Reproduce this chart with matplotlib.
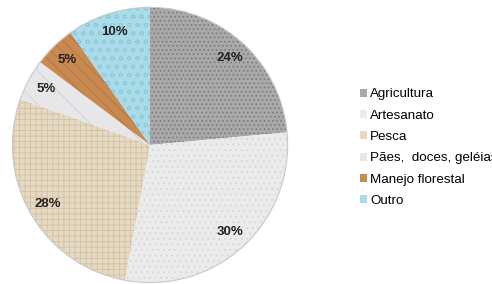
import matplotlib
matplotlib.use('Agg')
import matplotlib.pyplot as plt

matplotlib.rcParams['font.family'] = ['Liberation Sans', 'DejaVu Sans']
matplotlib.rcParams['hatch.linewidth'] = 0.6

labels = ['Agricultura', 'Artesanato', 'Pesca', 'Pães,  doces, geléias', 'Manejo florestal', 'Outro']
values = [24, 30, 28, 5, 5, 10]
colors = ['#a9a9a9', '#ebebeb', '#e6d9c3', '#e7e7ea', '#c98a52', '#aadbe8']
hatch_colors = ['#767676', '#d6d6d6', '#d2c2a4', '#d0d0d5', '#b07444', '#8cc9da']
hatches = ['....', '...', '+++', '\\', '\\\\\\', 'oo']

fig = plt.figure(figsize=(4.92, 2.84), dpi=100)
ax = fig.add_axes([0.0224, 0.0, 0.565, 0.979])

pct_iter = iter(values)
wedges, texts, autotexts = ax.pie(
    values, colors=colors, startangle=90, counterclock=False,
    autopct=lambda p: f'{next(pct_iter)}%', pctdistance=0.86,
    wedgeprops=dict(linewidth=0),
    textprops=dict(fontsize=9.5, fontweight='bold', color='#222222'))
for w, h, hc in zip(wedges, hatches, hatch_colors):
    w.set_hatch(h)
    w.set_edgecolor(hc)
# faint rim around the pie
ax.add_patch(plt.Circle((0, 0), 1, fill=False, edgecolor='#c8c8c8', linewidth=0.8))
ax.set_xlim(-1.01, 1.01)
ax.set_ylim(-1.01, 1.01)
ax.set_aspect('equal')

handles = [plt.Rectangle((0, 0), 1, 1, facecolor=c) for c in colors]
fig.legend(handles, labels, loc='upper left', bbox_to_anchor=(0.72, 0.708),
           frameon=False, fontsize=9.6, handlelength=0.55, handleheight=0.55,
           handletextpad=0.25, labelspacing=0.70, borderaxespad=0)

fig.savefig('out.png', dpi=100)
